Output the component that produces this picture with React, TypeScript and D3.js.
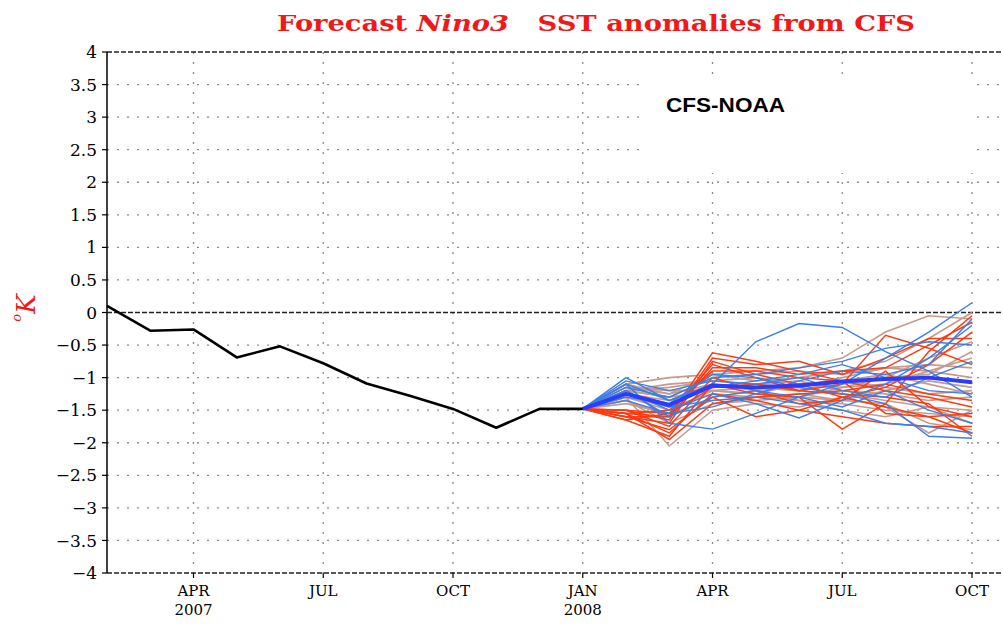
import * as d3 from "d3";

// month index 0 = Feb 2007 ... 20 = Oct 2008
const obsValues = [0.1, -0.28, -0.26, -0.69, -0.52, -0.78, -1.09, -1.28, -1.48, -1.77, -1.48, -1.48];
const fcstStart = 11; // Jan 2008

const ensMean = [-1.48, -1.25, -1.42, -1.12, -1.15, -1.12, -1.06, -1.02, -1.0, -1.07];

const tanMembers = [
  [-1.48, -1.1, -1.0, -0.95, -0.9, -0.85, -0.7, -0.3, -0.05, -0.1],
  [-1.48, -1.2, -1.15, -1.05, -1.0, -1.1, -1.15, -1.1, -0.9, -0.7],
  [-1.48, -1.3, -1.45, -1.25, -1.3, -1.35, -1.4, -1.5, -1.55, -1.6],
  [-1.48, -1.25, -1.35, -1.1, -1.15, -1.2, -1.1, -1.0, -0.7, -0.45],
  [-1.48, -1.15, -1.2, -1.2, -1.25, -1.3, -1.35, -1.4, -1.7, -1.8],
  [-1.48, -1.35, -1.6, -1.3, -1.2, -1.15, -1.0, -0.85, -0.9, -1.0],
  [-1.48, -1.2, -1.3, -1.0, -0.95, -0.9, -0.95, -0.85, -0.8, -0.85],
  [-1.48, -1.3, -2.05, -1.5, -1.4, -1.45, -1.3, -1.45, -1.85, -1.5],
  [-1.48, -1.25, -1.4, -1.15, -1.1, -1.05, -1.2, -1.25, -1.35, -1.3],
  [-1.48, -1.1, -1.25, -0.95, -1.05, -1.0, -0.9, -0.75, -0.4, 0.0],
  [-1.48, -1.4, -1.55, -1.35, -1.3, -1.25, -1.35, -1.2, -1.05, -1.15],
  [-1.48, -1.2, -1.1, -1.05, -1.1, -1.15, -1.25, -1.35, -1.45, -1.5],
  [-1.48, -1.3, -1.5, -1.2, -1.25, -1.1, -1.05, -1.15, -1.25, -1.2],
  [-1.48, -1.15, -1.25, -1.1, -1.2, -1.35, -1.5, -1.6, -1.45, -1.7],
  [-1.48, -1.35, -1.7, -1.4, -1.35, -1.3, -1.15, -1.0, -0.95, -0.6],
  [-1.48, -1.2, -1.3, -1.2, -1.15, -1.2, -1.05, -0.95, -1.1, -1.25],
];

const redMembers = [
  [-1.48, -1.55, -1.6, -0.62, -0.75, -0.9, -1.05, -1.2, -1.3, -1.45],
  [-1.48, -1.6, -1.7, -0.75, -0.95, -1.1, -1.3, -1.45, -1.6, -1.85],
  [-1.48, -1.5, -1.55, -0.8, -1.0, -1.2, -1.1, -0.35, -0.55, -0.8],
  [-1.48, -1.65, -1.9, -1.1, -1.25, -1.3, -1.79, -1.4, -0.6, -0.05],
  [-1.48, -1.55, -1.85, -1.25, -1.35, -1.5, -1.6, -1.7, -1.75, -1.75],
  [-1.48, -1.6, -1.6, -0.85, -0.85, -0.95, -0.9, -0.85, -0.5, -0.15],
  [-1.48, -1.5, -1.75, -1.0, -1.2, -1.4, -1.35, -0.9, -1.45, -1.6],
  [-1.48, -1.65, -1.55, -1.15, -1.1, -1.2, -1.25, -1.3, -1.4, -1.9],
  [-1.48, -1.55, -1.5, -0.9, -0.9, -1.0, -1.05, -1.55, -1.6, -1.55],
  [-1.48, -1.6, -1.8, -1.3, -1.6, -1.5, -1.3, -1.15, -0.8, -0.3],
  [-1.48, -1.5, -1.65, -0.7, -0.8, -0.75, -0.95, -0.7, -0.4, -0.4],
  [-1.48, -1.55, -1.95, -1.4, -1.3, -1.25, -1.2, -1.1, -1.25, -1.35],
];

const blueMembers = [
  [-1.48, -1.0, -1.35, -1.1, -0.45, -0.17, -0.23, -0.6, -0.9, -1.3],
  [-1.48, -1.1, -1.7, -1.79, -1.55, -1.3, -1.1, -0.7, -0.3, 0.15],
  [-1.48, -1.2, -1.5, -1.25, -1.4, -1.62, -1.35, -1.1, -0.7, -0.2],
  [-1.48, -1.3, -1.4, -0.95, -1.0, -1.15, -1.25, -1.4, -1.9, -1.93],
  [-1.48, -1.15, -1.3, -1.0, -0.95, -0.85, -0.75, -0.55, -0.45, -0.5],
  [-1.48, -1.25, -1.45, -1.35, -1.3, -1.4, -1.5, -1.7, -1.75, -1.85],
  [-1.48, -1.05, -1.2, -1.05, -1.1, -1.0, -1.2, -1.3, -1.0, -0.75],
  [-1.48, -1.35, -1.55, -1.45, -1.25, -1.05, -0.9, -0.95, -0.8, -0.1],
  [-1.48, -1.2, -1.6, -1.3, -1.2, -1.3, -1.45, -1.2, -1.5, -1.7],
  [-1.48, -1.1, -1.35, -1.15, -1.05, -0.95, -0.8, -1.0, -1.2, -1.25],
];

const tickMonths = [2, 5, 8, 11, 14, 17, 20];
const tickLabels = ["APR", "JUL", "OCT", "JAN", "APR", "JUL", "OCT"];
const tickYears = ["2007", "", "", "2008", "", "", ""];
const yTicks = d3.range(-4, 4.001, 0.5);

const WIDTH = 1003;
const HEIGHT = 626;
const LEFT = 107;
const RIGHT = 1003;
const TOP = 52;
const BOTTOM = 573;

const fmt = (v: number) => {
  const s = d3.format("")(Math.abs(v));
  return v < 0 ? "\u2212" + s : s;
};

export default function App() {
  const x = d3.scaleLinear().domain([0, 20]).range([LEFT, 972]);
  const y = d3.scaleLinear().domain([-4, 4]).range([BOTTOM, TOP]);

  const line = d3
    .line<number>()
    .x((_, i) => x(i))
    .y((d) => y(d));
  const fLine = d3
    .line<number>()
    .x((_, i) => x(fcstStart + i))
    .y((d) => y(d));

  const serif = "'DejaVu Serif', serif";

  return (
    <svg
      width={WIDTH}
      height={HEIGHT}
      style={{ position: "absolute", left: 0, top: 0, background: "#fff" }}
    >
      {/* title */}
      <text
        x={596}
        y={31}
        textAnchor="middle"
        fill="#f01818"
        fontFamily={serif}
        fontWeight="bold"
        fontSize={22}
        textLength={638}
        lengthAdjust="spacingAndGlyphs"
      >
        Forecast <tspan fontStyle="italic">Nino3</tspan>
        {"\u00a0\u00a0 SST anomalies from CFS"}
      </text>

      {/* grid */}
      {yTicks
        .filter((v) => v !== 0 && v !== 4 && v !== -4)
        .map((v) => (
          <line
            key={"gy" + v}
            x1={LEFT}
            x2={RIGHT}
            y1={y(v)}
            y2={y(v)}
            stroke="#8a8a8a"
            strokeWidth={1.3}
            strokeDasharray="2,8"
          />
        ))}
      {tickMonths.map((m) => (
        <line
          key={"gx" + m}
          x1={x(m)}
          x2={x(m)}
          y1={TOP}
          y2={BOTTOM}
          stroke="#8a8a8a"
          strokeWidth={1.3}
          strokeDasharray="2,8"
        />
      ))}

      {/* legend box */}
      <rect x={647} y={81} width={328} height={92} fill="#fff" />
      <text
        x={666}
        y={112}
        fontFamily="'Liberation Sans', Arial, sans-serif"
        fontWeight="bold"
        fontSize={20}
        textLength={119}
        lengthAdjust="spacingAndGlyphs"
        fill="#000"
      >
        CFS-NOAA
      </text>

      {/* dashed frame lines and zero line */}
      {[4, 0, -4].map((v) => (
        <line
          key={"d" + v}
          x1={LEFT}
          x2={RIGHT}
          y1={y(v)}
          y2={y(v)}
          stroke="#222"
          strokeWidth={1.6}
          strokeDasharray="5,2"
        />
      ))}

      {/* ensemble members */}
      {tanMembers.map((d, i) => (
        <path key={"t" + i} d={fLine(d) ?? ""} fill="none" stroke="#c69a8c" strokeWidth={1.6} />
      ))}
      {redMembers.map((d, i) => (
        <path key={"r" + i} d={fLine(d) ?? ""} fill="none" stroke="#ff3a10" strokeWidth={1.5} />
      ))}
      {blueMembers.map((d, i) => (
        <path key={"b" + i} d={fLine(d) ?? ""} fill="none" stroke="#3a7ee8" strokeWidth={1.4} />
      ))}
      <path d={fLine(ensMean) ?? ""} fill="none" stroke="#2a3cff" strokeWidth={4} strokeLinejoin="round" />

      {/* observed */}
      <path d={line(obsValues) ?? ""} fill="none" stroke="#000" strokeWidth={2.6} strokeLinejoin="round" />

      {/* left axis */}
      <line x1={LEFT} x2={LEFT} y1={TOP} y2={BOTTOM} stroke="#000" strokeWidth={1.5} />
      {yTicks.map((v) => (
        <g key={"yt" + v}>
          <line x1={LEFT - 5} x2={LEFT} y1={y(v)} y2={y(v)} stroke="#000" strokeWidth={1.2} />
          <text
            x={97}
            y={y(v)}
            dy="0.36em"
            textAnchor="end"
            fontFamily={serif}
            fontSize={17}
            fill="#000"
          >
            {fmt(v)}
          </text>
        </g>
      ))}

      {/* bottom ticks */}
      {tickMonths.map((m, i) => (
        <g key={"xt" + m}>
          <line x1={x(m)} x2={x(m)} y1={BOTTOM} y2={BOTTOM + 5} stroke="#000" strokeWidth={1.2} />
          <text
            x={x(m)}
            y={596}
            textAnchor="middle"
            fontFamily={serif}
            fontSize={15}
            fill="#000"
          >
            {tickLabels[i]}
          </text>
          {tickYears[i] && (
            <text
              x={x(m)}
              y={615}
              textAnchor="middle"
              fontFamily={serif}
              fontSize={15}
              fill="#000"
            >
              {tickYears[i]}
            </text>
          )}
        </g>
      ))}

      {/* y label */}
      <text
        transform="translate(35,308) rotate(-90)"
        textAnchor="middle"
        fill="#f01818"
        fontFamily={serif}
        fontStyle="italic"
        fontSize={26}
      >
        <tspan fontSize={13} dy={-14}>o</tspan>
        <tspan dy={14}>K</tspan>
      </text>
    </svg>
  );
}
